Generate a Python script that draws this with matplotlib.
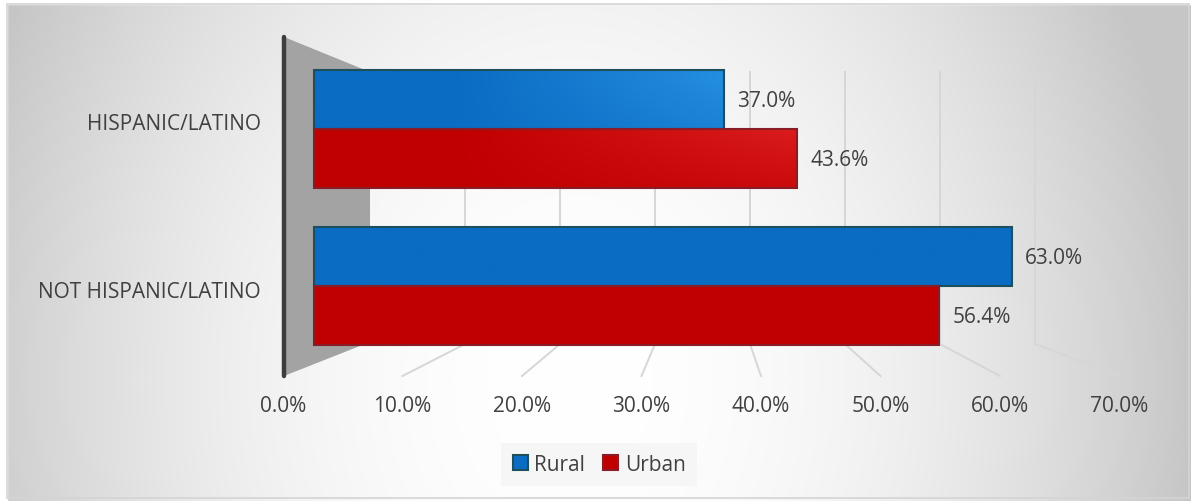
import numpy as np
import matplotlib
matplotlib.use("Agg")
import matplotlib.pyplot as plt
from matplotlib.patches import Polygon, Rectangle, Patch
from matplotlib.colors import to_rgb

plt.rcParams['font.family'] = ['Open Sans', 'DejaVu Sans']

# data
categories = ["HISPANIC/LATINO", "NOT HISPANIC/LATINO"]
rural = [37.0, 63.0]
urban = [43.6, 56.4]
ticks = [0, 10, 20, 30, 40, 50, 60, 70]

W, H = 1191, 502
fig = plt.figure(figsize=(W / 100, H / 100), dpi=100)
ax = fig.add_axes([0, 0, 1, 1])

# front (bar) plane: 0% at 314 px, 11.08 px per %
X0, SC = 314, 11.08
def fx(px):
    return (px - X0) / SC

def back_x(v):   # back wall of the 3-D box
    return fx(370 + 9.5 * v)

def floor_x(v):  # front edge of the floor
    return fx(283 + 11.95 * v)

ax.set_xlim(fx(0), fx(W))
ax.set_ylim(H, 0)
ax.axis("off")

# chart area background: soft radial gradient
yy, xx = np.mgrid[0:H, 0:W]
d = np.sqrt(((xx - 570) / 620.0) ** 2 + ((yy - 380) / 800.0) ** 2)
g = 1 - 0.22 * np.clip(d, 0, 1) ** 2
bg = np.dstack([g, g, g])
ax.imshow(bg, extent=[fx(0), fx(W), H, 0], aspect="auto", zorder=0)
ax.add_patch(Rectangle((fx(0), 0), fx(7) - fx(0), H, color="white", zorder=0.5))
ax.add_patch(Rectangle((fx(0), 0), fx(W) - fx(0), 5, color="white", zorder=0.5))
ax.add_patch(Rectangle((fx(7), 5), fx(1189) - fx(7), 494, fill=False,
                       ec="#d4d4d4", lw=1.2, zorder=0.6))

# side wall
wall = Polygon([(fx(284), 38), (fx(370), 73), (fx(370), 343), (fx(284), 377)],
               closed=True, fc="#a3a3a3", ec="none", zorder=1)
ax.add_patch(wall)
ax.plot([fx(284), fx(284)], [38, 377], color="#3d3d3d", lw=3.2,
        solid_capstyle="round", zorder=2)

# gridlines on back wall and floor
for v in ticks[1:]:
    ax.plot([back_x(v), back_x(v)], [73, 345], color="#d6d6d6", lw=1.4, zorder=1)
    ax.plot([back_x(v), floor_x(v)], [345, 377], color="#d6d6d6", lw=1.4, zorder=1)

# bars
y_cat = np.array([130, 287])
bh = 59
rural_c, rural_light, rural_edge = "#0a6cc2", "#2a96e6", "#1d4f5c"
urban_c, urban_light, urban_edge = "#c00000", "#e82a2a", "#8a1c28"

def shaded(bars, base, light):
    b, l = np.array(to_rgb(base)), np.array(to_rgb(light))
    for r in bars:
        x, y = r.get_x(), r.get_y()
        w, h = r.get_width(), r.get_height()
        gx = np.linspace(x, x + w, 200)
        gy = np.linspace(y, y + h, 20)
        GX, GY = np.meshgrid(gx, gy)
        px = X0 + GX * SC
        t = np.clip((px - 450) / 350, 0, 1) * np.clip((230 - GY) / 150, 0, 1)
        img = b + t[..., None] * (l - b)
        im = ax.imshow(img, extent=[x, x + w, y + h, y], aspect="auto", zorder=3)
        im.set_clip_path(r)

b1 = ax.barh(y_cat - bh / 2, rural, height=bh, color=rural_c, ec=rural_edge,
             lw=1.5, zorder=3.5, label="Rural")
b2 = ax.barh(y_cat + bh / 2, urban, height=bh, color=urban_c, ec=urban_edge,
             lw=1.5, zorder=3.5, label="Urban")
for r in list(b1) + list(b2):
    r.set_facecolor("none")
shaded(b1, rural_c, rural_light)
shaded(b2, urban_c, urban_light)

FS = 15
# data labels
for yc, vals in [(y_cat - bh / 2, rural), (y_cat + bh / 2, urban)]:
    for y, v in zip(yc, vals):
        ax.text(v + 1.2, y + 1, f"{v:.1f}%", ha="left", va="center",
                fontsize=FS, color="#404040", zorder=5)

# category labels
for y, c in zip([124, 293], categories):
    ax.text(fx(261), y, c, ha="right", va="center", fontsize=FS, color="#404040")

# value axis labels along floor edge
for v in ticks:
    ax.text(floor_x(v), 407, f"{v:.1f}%", ha="center", va="center",
            fontsize=FS, color="#404040")

# legend
handles = [Patch(fc=rural_c, ec=rural_edge, lw=1.5, label="Rural"),
           Patch(fc=urban_c, ec=urban_edge, lw=1.5, label="Urban")]
leg = fig.legend(handles=handles, loc="center", bbox_to_anchor=(599 / W, 1 - 465.5 / H),
                 ncol=2, frameon=True, fontsize=FS, handlelength=0.72,
                 handleheight=0.72, handletextpad=0.3, columnspacing=0.9,
                 borderpad=0.55, borderaxespad=0, fancybox=False,
                 labelcolor="#404040")
leg.get_frame().set_facecolor("#f6f6f6")
leg.get_frame().set_edgecolor("none")
leg.get_frame().set_alpha(1)

fig.savefig("out.png", dpi=100)
